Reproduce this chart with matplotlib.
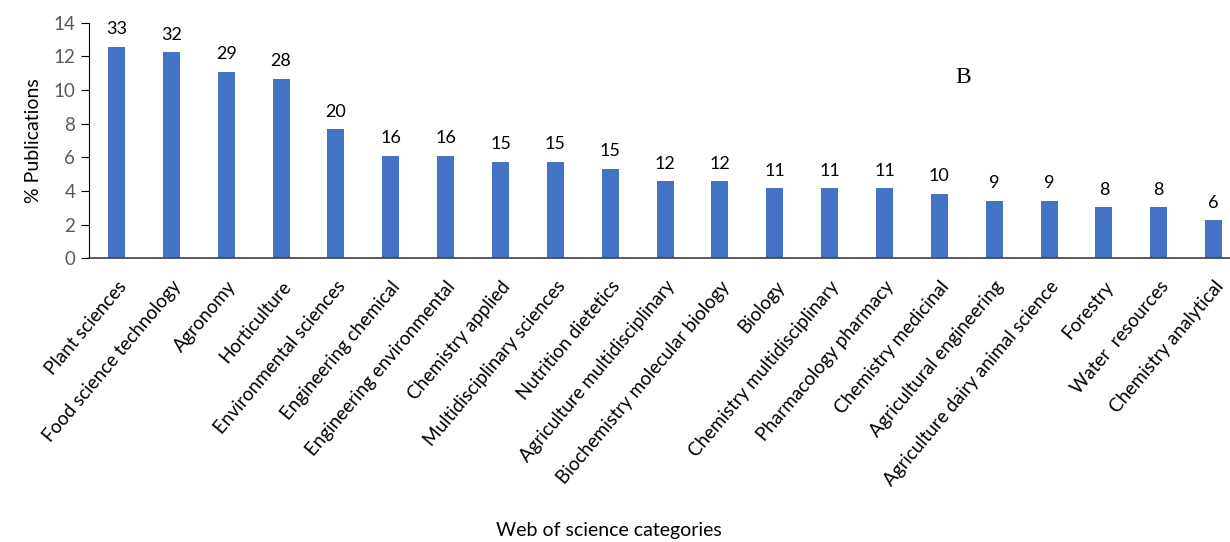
import matplotlib.pyplot as plt
import numpy as np

# data
categories = ["Plant sciences", "Food science technology", "Agronomy", "Horticulture",
              "Environmental sciences", "Engineering chemical", "Engineering environmental",
              "Chemistry applied", "Multidisciplinary sciences", "Nutrition dietetics",
              "Agriculture multidisciplinary", "Biochemistry molecular biology", "Biology",
              "Chemistry multidisciplinary", "Pharmacology pharmacy", "Chemistry medicinal",
              "Agricultural engineering", "Agriculture dairy animal science", "Forestry",
              "Water  resources", "Chemistry analytical"]
percent = [12.57, 12.24, 11.09, 10.67, 7.66, 6.10, 6.10, 5.74, 5.74, 5.32, 4.57,
           4.57, 4.16, 4.16, 4.16, 3.82, 3.42, 3.42, 3.03, 3.03, 2.26]
counts = [33, 32, 29, 28, 20, 16, 16, 15, 15, 15, 12, 12, 11, 11, 11, 10, 9, 9, 8, 8, 6]

plt.rcParams['font.family'] = ['Lato', 'DejaVu Sans']

fig = plt.figure(figsize=(12.3, 5.42), dpi=100)
ax = fig.add_axes([0.0724, 0.5234, 0.9366, 0.4346])

x = np.arange(len(categories))
ax.bar(x, percent, width=0.31, color='#4472C4')

for xi, yi, c in zip(x, percent, counts):
    ax.annotate(str(c), (xi, yi), xytext=(0, 7), textcoords='offset points',
                ha='center', va='bottom', fontsize=13, color='black')

ax.set_xlim(-0.5, len(categories) - 0.5)
ax.set_ylim(0, 14)
ax.set_yticks(np.arange(0, 15, 2))
ax.tick_params(axis='y', labelsize=13.5, labelcolor='#595959', length=6, color='black', pad=4)
ax.tick_params(axis='x', length=0, pad=14)
ax.set_xticks(x)
ax.set_xticklabels(categories, rotation=50, ha='right', rotation_mode='anchor',
                   fontsize=13.5, color='black')

for s in ['top', 'right']:
    ax.spines[s].set_visible(False)
ax.spines['left'].set_color('black')
ax.spines['bottom'].set_color('#404040')
ax.spines['bottom'].set_linewidth(1.2)

ax.set_ylabel("% Publications", fontsize=14, color='black', labelpad=8)
fig.text(0.495, 0.022, "Web of science categories", ha='center', va='center',
         fontsize=14, color='black')
fig.text(0.783, 0.857, "B", family='Liberation Serif', fontsize=17, ha='center', va='center')

fig.savefig("out.png", dpi=100)
